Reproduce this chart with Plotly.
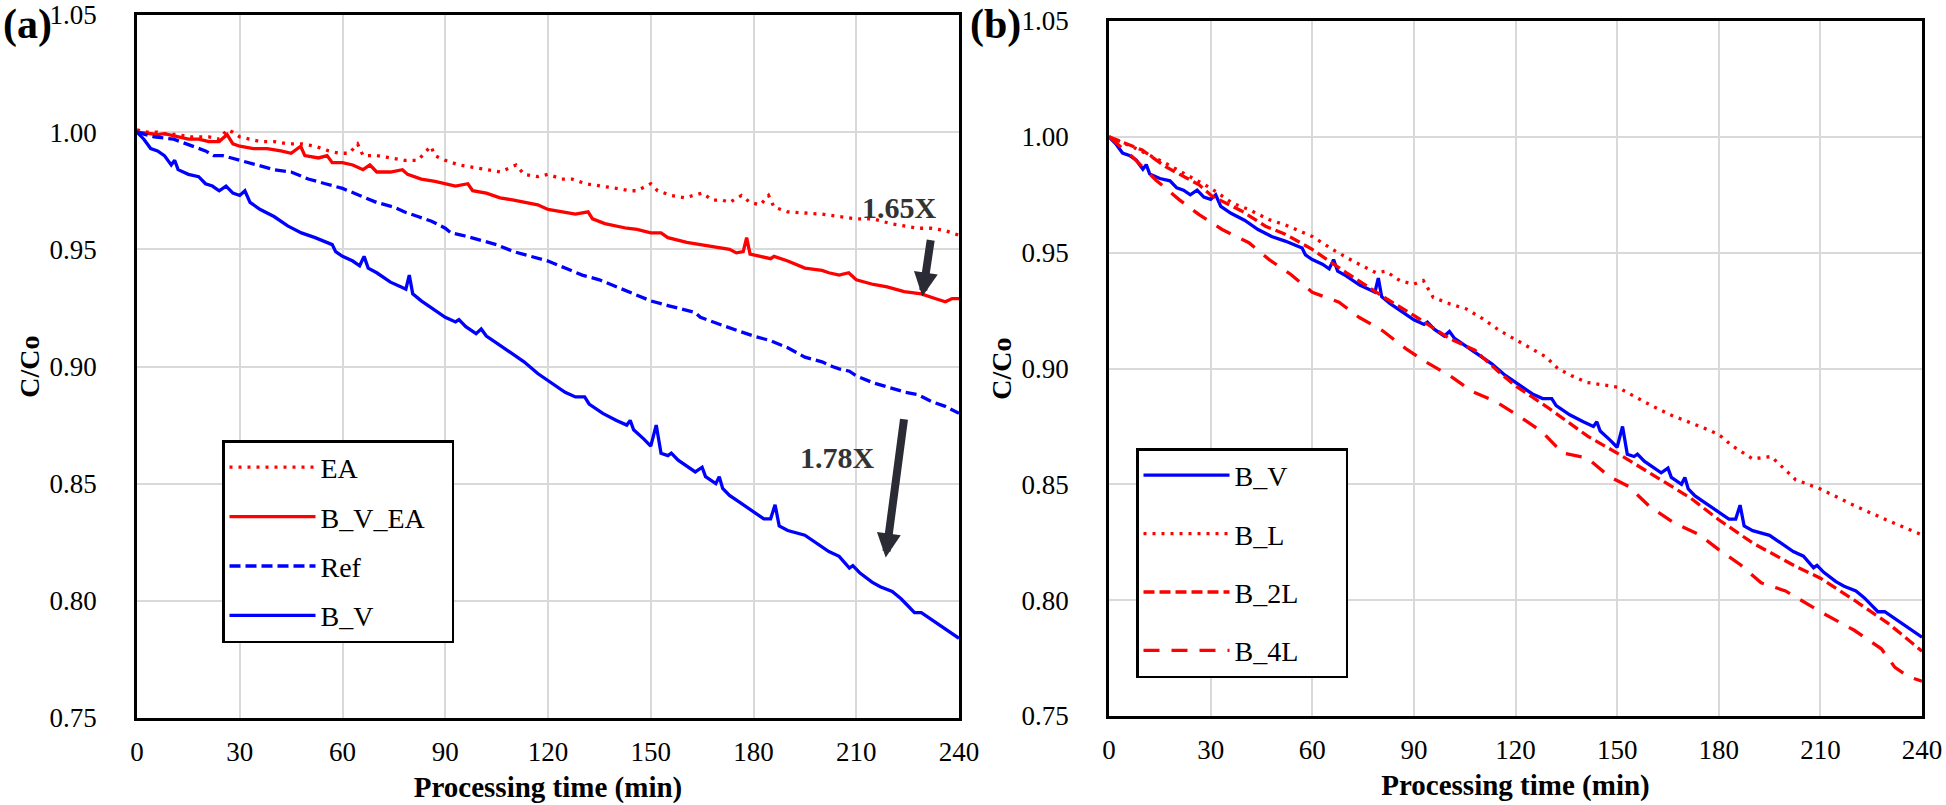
import plotly.graph_objects as go

# ---------------- data: panel (a) ----------------
ea_x = [0, 3, 6, 9, 12, 15, 18, 21, 24, 26.3, 28, 30, 33, 36, 40, 44, 48, 52, 56, 59, 62, 64.4, 66, 70, 74, 78,
        82, 85.8, 87, 90, 94, 98, 102, 106, 110.7, 113, 117, 120, 124, 127, 131, 136, 140, 144, 146, 150, 152,
        156, 160, 165, 168, 171, 173, 176.5, 179, 182, 184.4, 186, 190, 195, 200, 205, 210, 215, 220, 224, 228,
        232, 236, 240]
ea_y = [1.001, 1.000, 1.000, 0.999, 0.999, 0.998, 0.998, 0.998, 0.997, 1.001, 1.000, 0.998, 0.997, 0.996, 0.996,
        0.995, 0.995, 0.994, 0.992, 0.991, 0.991, 0.995, 0.990, 0.990, 0.989, 0.988, 0.988, 0.994, 0.990, 0.988,
        0.986, 0.985, 0.984, 0.983, 0.986, 0.982, 0.981, 0.982, 0.980, 0.980, 0.978, 0.977, 0.976, 0.975, 0.975,
        0.978, 0.975, 0.973, 0.972, 0.974, 0.971, 0.971, 0.970, 0.973, 0.970, 0.969, 0.973, 0.968, 0.966, 0.9655,
        0.965, 0.964, 0.963, 0.963, 0.961, 0.960, 0.959, 0.959, 0.958, 0.956]

bvea_x = [0, 3, 6, 8, 12, 15, 18, 21, 24, 26.3, 28, 30, 34, 38, 42, 45, 47.8, 49, 53, 55.5, 57, 60, 63, 66, 68,
          70, 74, 77.5, 79, 83, 87, 90, 93, 96.6, 98, 102, 106, 110, 114, 117, 120, 124, 128, 131.7, 133, 136.6,
          140, 143, 146, 150, 153, 155, 160.5, 165, 170, 173, 175, 177, 178, 179, 182, 185, 186, 190, 195, 200,
          202, 205, 207.8, 210, 215, 219, 224, 229, 233, 236, 238, 240]
bvea_y = [1.000, 0.9995, 0.999, 0.9994, 0.998, 0.997, 0.997, 0.996, 0.996, 0.999, 0.995, 0.994, 0.993, 0.993,
          0.992, 0.991, 0.994, 0.990, 0.989, 0.990, 0.987, 0.987, 0.986, 0.984, 0.986, 0.983, 0.983, 0.984, 0.982,
          0.980, 0.979, 0.978, 0.977, 0.978, 0.975, 0.974, 0.972, 0.971, 0.970, 0.969, 0.967, 0.966, 0.965, 0.966,
          0.963, 0.961, 0.960, 0.959, 0.9585, 0.957, 0.957, 0.955, 0.953, 0.952, 0.951, 0.950, 0.9485, 0.949,
          0.955, 0.948, 0.947, 0.946, 0.947, 0.945, 0.942, 0.941, 0.940, 0.939, 0.940, 0.937, 0.935, 0.934, 0.932,
          0.931, 0.929, 0.9276, 0.929, 0.929]

ref_x = [0, 5, 10.7, 16, 20, 22.4, 25, 30, 35, 40, 45, 50, 55, 60, 65, 70, 75, 78, 82, 86, 90, 91.7, 95, 100,
         105, 110, 115, 120, 125, 130, 135, 140, 145, 150, 155, 160, 163, 164.5, 168, 172, 176, 180, 185, 190,
         195, 200, 203, 205, 208, 210, 215, 220, 224.4, 228, 232, 236, 240]
ref_y = [1.000, 0.998, 0.997, 0.994, 0.992, 0.990, 0.990, 0.988, 0.986, 0.984, 0.983, 0.980, 0.978, 0.976, 0.973,
         0.970, 0.968, 0.966, 0.964, 0.962, 0.959, 0.957, 0.956, 0.954, 0.952, 0.949, 0.947, 0.945, 0.942, 0.939,
         0.937, 0.934, 0.931, 0.928, 0.926, 0.924, 0.923, 0.921, 0.919, 0.917, 0.915, 0.913, 0.911, 0.908, 0.904,
         0.902, 0.900, 0.899, 0.898, 0.896, 0.893, 0.891, 0.889, 0.888, 0.885, 0.883, 0.880]

bv_x = [0, 2, 4, 6, 8, 10, 11, 12, 15, 18, 20, 22, 24, 26, 28, 30, 31.5, 33, 36, 40, 44, 48, 52, 55, 57, 58, 60,
        63, 65, 66.3, 67.5, 70, 74, 77, 78.5, 79.5, 80.5, 83, 86, 90, 93, 94, 96, 99, 100.5, 102, 106, 110, 113,
        117, 121, 125, 128, 130.7, 132, 136, 140, 143, 144, 145, 148, 150, 151.6, 153, 155, 156, 158, 160, 163,
        165, 166, 169, 170, 171, 173, 176, 180, 183, 185, 186.3, 187.5, 190, 195, 198, 202, 205, 208, 209, 211,
        214.6, 217, 220.5, 223, 225, 227, 229, 232, 235, 238, 240]
bv_y = [1.000, 0.997, 0.993, 0.992, 0.990, 0.986, 0.988, 0.984, 0.982, 0.981, 0.978, 0.977, 0.975, 0.977, 0.974,
        0.973, 0.975, 0.970, 0.967, 0.964, 0.960, 0.957, 0.955, 0.953, 0.952, 0.949, 0.947, 0.945, 0.943, 0.947,
        0.942, 0.940, 0.936, 0.934, 0.933, 0.939, 0.931, 0.928, 0.925, 0.921, 0.919, 0.920, 0.917, 0.914, 0.916,
        0.913, 0.909, 0.905, 0.902, 0.897, 0.893, 0.889, 0.887, 0.887, 0.884, 0.880, 0.877, 0.875, 0.877, 0.873,
        0.869, 0.866, 0.875, 0.863, 0.862, 0.863, 0.860, 0.858, 0.855, 0.857, 0.853, 0.850, 0.853, 0.848, 0.845,
        0.842, 0.838, 0.835, 0.835, 0.841, 0.832, 0.830, 0.828, 0.825, 0.821, 0.819, 0.814, 0.815, 0.812, 0.808,
        0.806, 0.804, 0.801, 0.798, 0.795, 0.795, 0.792, 0.789, 0.786, 0.784]

# ---------------- data: panel (b) ----------------
bl_x = [0, 6.9, 16.7, 22.6, 30, 36.4, 41.3, 47.2, 52, 60, 66, 72, 78.7, 81.7, 85.9, 90, 92.8, 95.7, 100.6, 105.5,
        110.4, 115.3, 120, 129, 132.5, 136.4, 141, 150, 159.6, 165.7, 171.8, 177.8, 180.4, 184, 190, 195.5,
        202.7, 210, 220.5, 229.4, 240]
bl_y = [1.000, 0.9957, 0.9886, 0.984, 0.9779, 0.9714, 0.9686, 0.9643, 0.962, 0.957, 0.9514, 0.9464, 0.9414, 0.942,
        0.9379, 0.9364, 0.938, 0.9307, 0.9279, 0.9257, 0.9214, 0.9164, 0.9125, 0.905, 0.900, 0.897, 0.894, 0.892,
        0.8844, 0.880, 0.8765, 0.873, 0.871, 0.8666, 0.861, 0.862, 0.852, 0.848, 0.8405, 0.8347, 0.8282]

b2l_x = [0, 9.8, 16.7, 26.6, 30.5, 39.3, 46.2, 52, 60, 70, 82, 90, 100.6, 108, 115, 120, 129, 141.4, 150, 159.6,
         171.8, 180, 190, 202.7, 210, 220, 230, 240]
b2l_y = [1.000, 0.9943, 0.9871, 0.9793, 0.9743, 0.9679, 0.9614, 0.958, 0.9514, 0.9414, 0.930, 0.9229, 0.9129,
         0.9079, 0.8986, 0.8925, 0.8837, 0.8707, 0.8635, 0.855, 0.844, 0.8347, 0.8247, 0.8146, 0.8095, 0.800,
         0.790, 0.778]

b4l_x = [0, 6.9, 13.8, 20.7, 26.6, 33.4, 41.3, 47.2, 53.6, 60, 67.9, 73.8, 80.7, 87.6, 93.5, 100.4, 107.3, 114.2,
         120, 127.8, 133.9, 141.2, 147.5, 153.5, 159.6, 166.9, 174.3, 180, 186.4, 192.5, 199.7, 210, 220, 228,
         232, 236, 240]
b4l_y = [1.000, 0.9914, 0.9814, 0.9729, 0.9664, 0.960, 0.9543, 0.9471, 0.9407, 0.9329, 0.9286, 0.9221, 0.9164,
         0.9086, 0.9029, 0.8971, 0.890, 0.8857, 0.8804, 0.8728, 0.8635, 0.8614, 0.8535, 0.849, 0.8404, 0.8333,
         0.8282, 0.8218, 0.8153, 0.8075, 0.804, 0.795, 0.787, 0.779, 0.771, 0.767, 0.765]

x_ticks = [0, 30, 60, 90, 120, 150, 180, 210, 240]
y_ticks = [0.75, 0.80, 0.85, 0.90, 0.95, 1.00, 1.05]

RED = "#FF0000"
BLUE = "#0000FF"
FONT = "Liberation Serif"
W, H = 1946, 805
NB = "\u00a0"


def px(x):
    """page x pixel -> paper fraction"""
    return x / W


def py(y):
    """page y pixel (from top) -> paper fraction"""
    return 1 - y / H


fig = go.Figure()


def add(x, y, name, color, dash, xa, ya, legend, pad):
    fig.add_trace(go.Scatter(x=x, y=y, name=name + NB * pad, mode="lines",
                             line=dict(color=color, width=3.3, dash=dash),
                             xaxis=xa, yaxis=ya, legend=legend,
                             legendgroup=legend + name))


DOT = "3px,6px"
SHORT = "11px,5px"
LONG = "16px,12px"

add(ea_x, ea_y, "EA", RED, DOT, "x", "y", "legend", 0)
add(bvea_x, bvea_y, "B_V_EA", RED, "solid", "x", "y", "legend", 3)
add(ref_x, ref_y, "Ref", BLUE, SHORT, "x", "y", "legend", 0)
add(bv_x, bv_y, "B_V", BLUE, "solid", "x", "y", "legend", 0)

add(bv_x, bv_y, "B_V", BLUE, "solid", "x2", "y2", "legend2", 0)
add(bl_x, bl_y, "B_L", RED, DOT, "x2", "y2", "legend2", 0)
add(b2l_x, b2l_y, "B_2L", RED, SHORT, "x2", "y2", "legend2", 6)
add(b4l_x, b4l_y, "B_4L", RED, LONG, "x2", "y2", "legend2", 6)


def xaxis(dom, anchor):
    return dict(domain=dom, anchor=anchor, range=[0, 240], tickvals=x_ticks, automargin=False,
                ticktext=[str(v) for v in x_ticks], showgrid=True, gridcolor="#d9d9d9", gridwidth=2,
                showline=True, linecolor="black", linewidth=2.5, mirror=True, ticks="", zeroline=False,
                ticklabeloverflow="allow",
                tickfont=dict(family=FONT, size=27, color="black"), ticklabelstandoff=8,
                title=dict(text="Processing time (min)", standoff=11,
                           font=dict(family=FONT, size=29, color="black", weight="bold")))


def yaxis(dom, anchor):
    return dict(domain=dom, anchor=anchor, range=[0.75, 1.05], tickvals=y_ticks, automargin=False,
                ticktext=["%.2f" % v for v in y_ticks], showgrid=True, gridcolor="#d9d9d9", gridwidth=2,
                showline=True, linecolor="black", linewidth=2.5, mirror=True, ticks="", zeroline=False,
                ticklabeloverflow="allow",
                tickfont=dict(family=FONT, size=27, color="black"), ticklabelstandoff=32,
                title=dict(text="C/Co", standoff=2,
                           font=dict(family=FONT, size=28, color="black", weight="bold")))


leg_common = dict(bgcolor="white", bordercolor="black", borderwidth=2.5, xanchor="left", yanchor="top",
                  font=dict(family=FONT, size=28, color="black"), traceorder="grouped", itemwidth=86)

fig.update_layout(
    width=W, height=H, margin=dict(l=0, r=0, t=0, b=0, autoexpand=False),
    paper_bgcolor="white", plot_bgcolor="white",
    xaxis=xaxis([px(137), px(959)], "y"),
    yaxis=yaxis([py(718), py(15)], "x"),
    xaxis2=xaxis([px(1109), px(1922)], "y2"),
    yaxis2=yaxis([py(716), py(21)], "x2"),
    legend=dict(x=px(222), y=py(440), tracegroupgap=10, **leg_common),
    legend2=dict(x=px(1136), y=py(448), tracegroupgap=19, **leg_common),
    annotations=[
        dict(text="<b>(a)</b>", x=px(1), y=py(24), xref="paper", yref="paper", xanchor="left",
             yanchor="middle", showarrow=False, font=dict(family=FONT, size=42, color="black")),
        dict(text="<b>(b)</b>", x=px(968), y=py(24), xref="paper", yref="paper", xanchor="left",
             yanchor="middle", showarrow=False, font=dict(family=FONT, size=42, color="black")),
        dict(text="<b>1.65X</b>", x=222.5, y=0.968, xref="x", yref="y", showarrow=False,
             font=dict(family=FONT, size=30, color="#333333")),
        dict(text="<b>1.78X</b>", x=204.4, y=0.861, xref="x", yref="y", showarrow=False,
             font=dict(family=FONT, size=30, color="#333333")),
        dict(text="", x=229.3, y=0.9299, ax=231.8, ay=0.9546, xref="x", yref="y", axref="x", ayref="y",
             showarrow=True, arrowhead=2, arrowwidth=8, arrowsize=0.6, arrowcolor="#2b2b36"),
        dict(text="", x=218.6, y=0.8185, ax=224, ay=0.8781, xref="x", yref="y", axref="x", ayref="y",
             showarrow=True, arrowhead=2, arrowwidth=8, arrowsize=0.6, arrowcolor="#2b2b36"),
    ],
)

fig.write_html("out.html", config={"displayModeBar": False},
               post_script="document.body.style.margin='0px';")
